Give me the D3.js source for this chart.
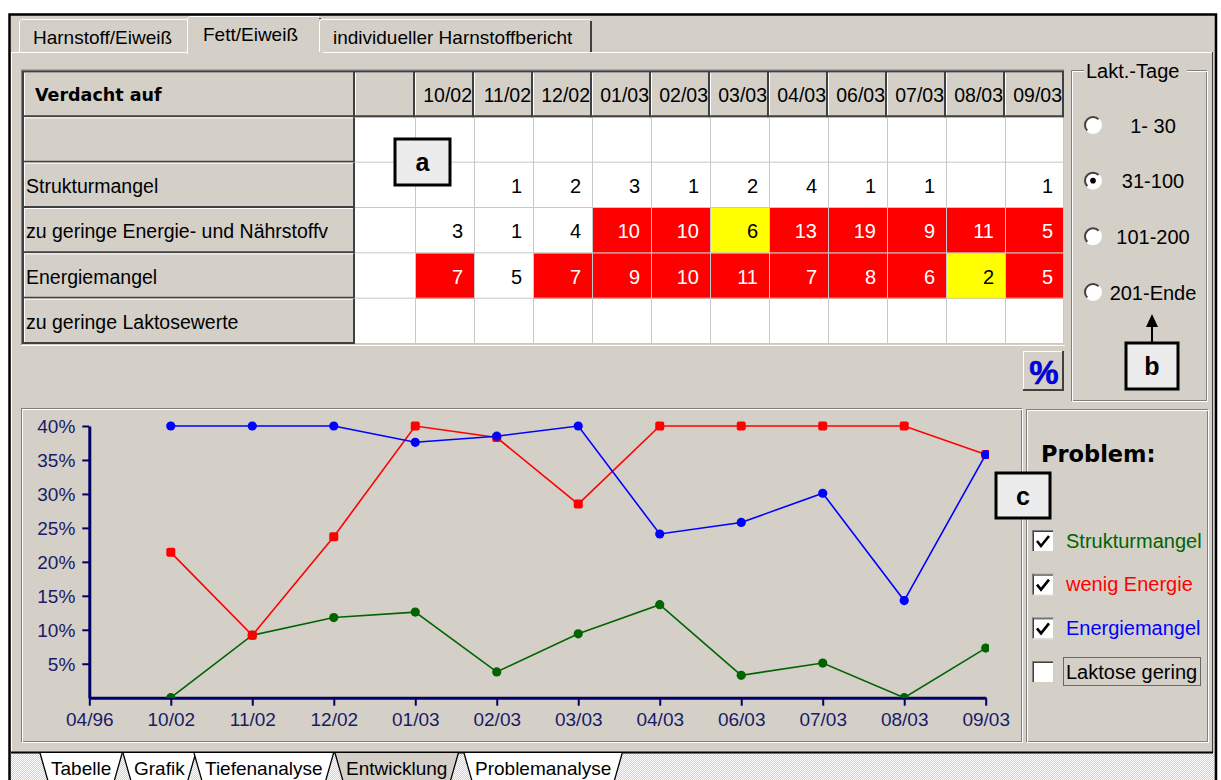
<!DOCTYPE html>
<html>
<head>
<meta charset="utf-8">
<script src="https://cdn.jsdelivr.net/npm/d3@7"></script>
<style>
body { margin: 0; background: #fff; }
svg text { font-family: "Liberation Sans", Arial, sans-serif; }
</style>
</head>
<body>
<div id="chart"></div>
<script>
// tabs and captions
var topTabs = ["Harnstoff/Eiweiß", "Fett/Eiweiß", "individueller Harnstoffbericht"];
var bottomTabs = ["Tabelle", "Grafik", "Tiefenanalyse", "Entwicklung", "Problemanalyse"];
var laktTage = ["1- 30", "31-100", "101-200", "201-Ende"];

// table data
var months = ["10/02", "11/02", "12/02", "01/03", "02/03", "03/03", "04/03", "06/03", "07/03", "08/03", "09/03"];
var rowLabels = ["", "Strukturmangel", "zu geringe Energie- und Nährstoffv", "Energiemangel", "zu geringe Laktosewerte"];
var strukturCounts = [null, 1, 2, 3, 1, 2, 4, 1, 1, null, 1];
var naehrstoffCounts = [3, 1, 4, 10, 10, 6, 13, 19, 9, 11, 5];
var energieCounts = [7, 5, 7, 9, 10, 11, 7, 8, 6, 2, 5];
var laktoseCounts = [null, null, null, null, null, null, null, null, null, null, null];
// 0 = unauffällig, 1 = Warnung, 2 = Alarm
var strukturFlags = [0, 0, 0, 0, 0, 0, 0, 0, 0, 0, 0];
var naehrstoffFlags = [0, 0, 0, 2, 2, 1, 2, 2, 2, 2, 2];
var energieFlags = [2, 0, 2, 2, 2, 2, 2, 2, 2, 1, 2];

// chart data (percent)
var axisLabels = ["04/96", "10/02", "11/02", "12/02", "01/03", "02/03", "03/03", "04/03", "06/03", "07/03", "08/03", "09/03"];
var strukturPct = [0, 9.2, 11.8, 12.6, 3.8, 9.4, 13.7, 3.3, 5.1, 0, 7.3];
var wenigEnergiePct = [21.4, 9.2, 23.7, 40, 38.3, 28.5, 40, 40, 40, 40, 35.8];
var energiemangelPct = [40, 40, 40, 37.6, 38.5, 40, 24.1, 25.8, 30.1, 14.3, 35.8];
var yTicks = [5, 10, 15, 20, 25, 30, 35, 40];

var legendLabels = ["Strukturmangel", "wenig Energie", "Energiemangel", "Laktose gering"];
var legendChecked = [true, true, true, false];

var grey = "#d4d0c8", dark = "#404040", mid = "#808080";
var bold = '"DejaVu Sans", Verdana, sans-serif';

var svg = d3.select('#chart')
    .append("svg")
    .attr("width", 1221)
    .attr("height", 780);

svg.append("rect").attr("width", 1221).attr("height", 780).attr("fill", "#fff");
svg.append("rect").attr("x", 10).attr("y", 15).attr("width", 1205).attr("height", 770).attr("fill", grey);

// dither pattern for the sheet tab strip
var pat = svg.append("defs").append("pattern")
    .attr("id", "dither").attr("width", 2).attr("height", 2)
    .attr("patternUnits", "userSpaceOnUse");
pat.append("rect").attr("width", 2).attr("height", 2).attr("fill", grey);
pat.append("rect").attr("width", 1).attr("height", 1).attr("fill", "#fff");
pat.append("rect").attr("x", 1).attr("y", 1).attr("width", 1).attr("height", 1).attr("fill", "#fff");

function hline(x1, x2, yy, color, w) {
    svg.append("line").attr("x1", x1).attr("x2", x2).attr("y1", yy).attr("y2", yy)
        .attr("stroke", color).attr("stroke-width", w || 1);
}
function vline(xx, y1, y2, color, w) {
    svg.append("line").attr("x1", xx).attr("x2", xx).attr("y1", y1).attr("y2", y2)
        .attr("stroke", color).attr("stroke-width", w || 1);
}
// raised 3d cell
function raised(x0, y0, x1, y1) {
    svg.append("rect").attr("x", x0).attr("y", y0).attr("width", x1 - x0).attr("height", y1 - y0).attr("fill", grey);
    hline(x0, x1, y0 + 0.5, "#fff");
    vline(x0 + 0.5, y0, y1, "#fff");
    hline(x0, x1, y1 - 1, dark, 2);
    vline(x1 - 1, y0, y1, dark, 2);
}
// etched frame
function etched(x0, y0, x1, y1) {
    svg.append("rect").attr("x", x0 + 0.5).attr("y", y0 + 0.5).attr("width", x1 - x0 - 1).attr("height", y1 - y0 - 1)
        .attr("fill", "none").attr("stroke", mid);
    svg.append("rect").attr("x", x0 + 1.5).attr("y", y0 + 1.5).attr("width", x1 - x0 - 1).attr("height", y1 - y0 - 1)
        .attr("fill", "none").attr("stroke", "#fff");
}

// ---- top tabs
var tabEdges = [19, 189, 319, 592];
topTabs.forEach(function(t, i) {
    var active = i === 1;
    var x0 = tabEdges[i] - (active ? 2 : 0), x1 = tabEdges[i + 1] + (active ? 2 : 0);
    var y0 = active ? 16 : 19;
    svg.append("rect").attr("x", x0).attr("y", y0).attr("width", x1 - x0).attr("height", 54 - y0).attr("fill", grey);
    svg.append("path")
        .attr("d", "M" + (x0 + 0.5) + "," + (active ? 54 : 52) + "V" + (y0 + 2.5) + "L" + (x0 + 2.5) + "," + (y0 + 0.5) + "H" + (x1 - 2))
        .attr("fill", "none").attr("stroke", "#fff");
    vline(x1 - 1, y0 + 2, active ? 53 : 52, dark, 2);
    svg.append("text").attr("x", x0 + (active ? 16 : 14)).attr("y", active ? 41 : 44)
        .attr("font-size", "19px").attr("fill", "#000").text(t);
});

// tab page frame
hline(11, 187, 52.5, "#fff");
hline(323, 1212, 52.5, "#fff");
vline(11.5, 52, 752, "#fff");
vline(1212.5, 52, 752, dark);

// outer black border
svg.append("path").attr("d", "M9.5,785V14.5H1216V785").attr("fill", "none").attr("stroke", "#000").attr("stroke-width", 2.5);

// ---- table
var colX = d3.scaleBand().domain(months).range([415, 1064]);
var rowY = d3.scaleBand().domain(d3.range(6)).range([72, 344]);
var labelX0 = 24, labelX1 = 355, blankX1 = 415;
var rh = rowY.bandwidth();

svg.append("rect").attr("x", labelX1).attr("y", rowY(1)).attr("width", 1064 - labelX1).attr("height", 344 - rowY(1)).attr("fill", "#fff");

var counts = [laktoseCounts, strukturCounts, naehrstoffCounts, energieCounts, laktoseCounts];
var flags = [strukturFlags, strukturFlags, naehrstoffFlags, energieFlags, strukturFlags];
var flagFill = ["#fff", "#ffff00", "#ff0000"];
var flagText = ["#000", "#000", "#fff"];

rowLabels.forEach(function(lbl, r) {
    var y0 = rowY(r + 1);
    months.forEach(function(m, c) {
        var f = flags[r][c];
        if (f > 0) {
            svg.append("rect").attr("x", colX(m)).attr("y", y0).attr("width", colX.bandwidth()).attr("height", rh)
                .attr("fill", flagFill[f]);
        }
    });
});

// light grid
months.forEach(function(m) { vline(colX(m) + 0.5, rowY(1), 344, "#c8c8c8"); });
vline(1063.5, rowY(1), 344, "#c8c8c8");
d3.range(1, 6).forEach(function(r) { hline(labelX1, 1064, rowY(r) + rh - 0.5, "#c8c8c8"); });

// numbers
rowLabels.forEach(function(lbl, r) {
    var y0 = rowY(r + 1);
    svg.selectAll(null)
        .data(counts[r].map(function(v, c) { return {v: v, c: c}; }).filter(function(d) { return d.v !== null; }))
        .enter()
        .append("text")
        .attr("x", function(d) { return colX(months[d.c]) + colX.bandwidth() - 11; })
        .attr("y", y0 + rh / 2 + 7.5)
        .attr("text-anchor", "end")
        .attr("font-size", "20px")
        .attr("fill", function(d) { return flagText[flags[r][d.c]]; })
        .text(function(d) { return d.v; });
});

// header row
raised(labelX0, rowY(0), labelX1, rowY(0) + rh);
raised(labelX1, rowY(0), blankX1, rowY(0) + rh);
months.forEach(function(m) {
    raised(colX(m), rowY(0), colX(m) + colX.bandwidth(), rowY(0) + rh);
});
svg.append("text").attr("x", 35).attr("y", rowY(0) + rh / 2 + 6.5)
    .style("font-family", bold).attr("font-weight", "bold").attr("font-size", "17.5px").text("Verdacht auf");
svg.selectAll(null)
    .data(months)
    .enter()
    .append("text")
    .attr("x", function(d) { return colX(d) + colX.bandwidth() - 2; })
    .attr("y", rowY(0) + rh / 2 + 7)
    .attr("text-anchor", "end")
    .attr("font-size", "19.5px")
    .text(function(d) { return d; });

// row labels
rowLabels.forEach(function(lbl, r) {
    raised(labelX0, rowY(r + 1), labelX1, rowY(r + 1) + rh);
    svg.append("text").attr("x", 26).attr("y", rowY(r + 1) + rh / 2 + 7.5)
        .attr("font-size", "19.5px").text(lbl);
});

// table sunken frame
hline(21, 1064, 70, mid);
hline(22, 1064, 71.5, dark, 2);
vline(21.5, 70, 345, mid);
vline(23, 71, 344, dark, 2);
hline(21, 1065, 345.5, "#fff");

// percent button
raised(1023, 351, 1064, 391);
svg.append("text").attr("x", 1044).attr("y", 384).attr("text-anchor", "middle")
    .attr("font-weight", "bold").attr("font-size", "33px")
    .attr("fill", "#0000ff").attr("stroke", "#000080").attr("stroke-width", 0.6).text("%");

// ---- Lakt.-Tage group
etched(1071, 70, 1207, 401);
svg.append("rect").attr("x", 1084).attr("y", 62).attr("width", 103).attr("height", 20).attr("fill", grey);
svg.append("text").attr("x", 1086).attr("y", 78).attr("font-size", "20px").text("Lakt.-Tage");

var radioY = d3.scalePoint().domain(laktTage).range([125, 292]);
var ringDark = d3.arc()({innerRadius: 7, outerRadius: 9, startAngle: -Math.PI * 0.75, endAngle: Math.PI * 0.25});
var ringLight = d3.arc()({innerRadius: 7, outerRadius: 9, startAngle: Math.PI * 0.25, endAngle: Math.PI * 1.25});
laktTage.forEach(function(t, i) {
    var cy = radioY(t), cx = 1093;
    svg.append("circle").attr("cx", cx).attr("cy", cy).attr("r", 7.5).attr("fill", "#fff");
    svg.append("path").attr("d", ringDark)
        .attr("transform", "translate(" + cx + "," + cy + ")").attr("fill", dark);
    svg.append("path").attr("d", ringLight)
        .attr("transform", "translate(" + cx + "," + cy + ")").attr("fill", "#fff");
    if (i === 1) {
        svg.append("circle").attr("cx", cx).attr("cy", cy).attr("r", 2.8).attr("fill", "#000");
    }
    svg.append("text").attr("x", 1153).attr("y", cy + 7.5).attr("text-anchor", "middle")
        .attr("font-size", "20px").text(t);
});

// ---- chart panel
etched(21, 408, 1022, 742);
etched(1026, 409, 1208, 742);

var x = d3.scalePoint().domain(axisLabels).range([89.3, 985.7]);
var y = d3.scaleLinear().domain([0, 40]).range([697.7, 426]);
var navy = "#000066";

var yAxis = svg.append("g")
    .attr("transform", "translate(" + x(axisLabels[0]) + ",0)")
    .call(d3.axisLeft(y).tickValues(yTicks).tickSize(7).tickSizeOuter(0).tickPadding(7)
        .tickFormat(function(d) { return d + "%"; }));
var xAxis = svg.append("g")
    .attr("transform", "translate(0," + y(0) + ")")
    .call(d3.axisBottom(x).tickSize(8).tickSizeOuter(0).tickPadding(7));
[yAxis, xAxis].forEach(function(g) {
    g.select(".domain").attr("stroke", navy).attr("stroke-width", 3);
    g.selectAll(".tick line").attr("stroke", navy).attr("stroke-width", 2);
    g.selectAll(".tick text").attr("fill", "#1a1a66").attr("font-size", "19px")
        .attr("font-family", '"Liberation Sans", Arial, sans-serif');
});
yAxis.selectAll(".tick text").attr("dy", "0.36em");

svg.append("clipPath").attr("id", "plotclip").append("rect")
    .attr("x", 80).attr("y", 420).attr("width", 909).attr("height", 278);

var series = [
    {values: strukturPct, color: "#006400", square: false},
    {values: wenigEnergiePct, color: "#ff0000", square: true},
    {values: energiemangelPct, color: "#0000ff", square: false}
];
var plot = svg.append("g").attr("clip-path", "url(#plotclip)");
var line = d3.line()
    .x(function(d, i) { return x(axisLabels[i + 1]); })
    .y(function(d) { return y(d); });

series.forEach(function(s) {
    plot.append("path").datum(s.values).attr("d", line)
        .attr("fill", "none").attr("stroke", s.color).attr("stroke-width", 1.6);
    if (s.square) {
        plot.selectAll(null).data(s.values).enter().append("rect")
            .attr("x", function(d, i) { return x(axisLabels[i + 1]) - 4.5; })
            .attr("y", function(d) { return y(d) - 4.5; })
            .attr("width", 9).attr("height", 9).attr("rx", 2)
            .attr("fill", s.color);
    } else {
        plot.selectAll(null).data(s.values).enter().append("circle")
            .attr("cx", function(d, i) { return x(axisLabels[i + 1]); })
            .attr("cy", function(d) { return y(d); })
            .attr("r", 4.6)
            .attr("fill", s.color);
    }
});

// ---- legend
svg.append("text").attr("x", 1041).attr("y", 462)
    .style("font-family", bold).attr("font-weight", "bold").attr("font-size", "22.5px").text("Problem:");

var legendY = d3.scalePoint().domain(legendLabels).range([541, 672]);
var legendColors = ["#006400", "#ff0000", "#0000ff", "#000"];
legendLabels.forEach(function(l, i) {
    var cy = legendY(l), bx = 1032, by = cy - 11;
    svg.append("rect").attr("x", bx).attr("y", by).attr("width", 22).attr("height", 22).attr("fill", "#fff");
    hline(bx, bx + 22, by + 0.5, mid);
    vline(bx + 0.5, by, by + 22, mid);
    hline(bx + 1, bx + 21, by + 1.5, dark);
    vline(bx + 1.5, by + 1, by + 21, dark);
    hline(bx, bx + 22, by + 21.5, grey);
    vline(bx + 21.5, by, by + 22, grey);
    if (legendChecked[i]) {
        svg.append("path").attr("d", "M" + (bx + 5) + "," + (by + 11) + "l4,5l8,-10")
            .attr("fill", "none").attr("stroke", "#000").attr("stroke-width", 2.6);
    }
    svg.append("text").attr("x", 1066).attr("y", cy + 6.5)
        .attr("font-size", "20px").attr("fill", legendColors[i]).text(l);
});
var lastY = legendY(legendLabels[3]);
svg.append("rect").attr("x", 1063.5).attr("y", lastY - 14.5).attr("width", 137).attr("height", 28)
    .attr("fill", "none").attr("stroke", "#000").attr("stroke-dasharray", "1,1");

// ---- sheet tabs at the bottom
svg.append("rect").attr("x", 11).attr("y", 752).attr("width", 1203).attr("height", 30).attr("fill", "url(#dither)");
hline(11, 1213, 752.5, "#000", 2);
var tabTextX = [51, 134, 205, 346, 475];
var tabG = svg.append("g");
var tabTexts = bottomTabs.map(function(t, i) {
    return svg.append("text").attr("x", tabTextX[i]).attr("y", 775).attr("font-size", "19px").text(t);
});
var order = [0, 1, 2, 4, 3];
order.forEach(function(i) {
    var t0 = tabTextX[i], t1 = t0 + tabTexts[i].node().getComputedTextLength();
    tabG.append("path")
        .attr("d", "M" + (t0 - 11) + ",753L" + (t0 - 3) + ",781L" + (t1 + 3) + ",781L" + (t1 + 11) + ",753")
        .attr("fill", i === 3 ? grey : "#fff").attr("stroke", "#000").attr("stroke-width", 1.3);
});
tabTexts.forEach(function(t) { tabG.node().appendChild(t.node()); });

// ---- annotation boxes
function callout(x0, y0, w, h, letter) {
    svg.append("rect").attr("x", x0).attr("y", y0).attr("width", w).attr("height", h)
        .attr("fill", "#ececec").attr("stroke", "#000").attr("stroke-width", 3);
    svg.append("text").attr("x", x0 + w / 2).attr("y", y0 + h / 2 + 9).attr("text-anchor", "middle")
        .attr("font-weight", "bold").attr("font-size", "25px").text(letter);
}
callout(395, 139, 55, 46, "a");
svg.append("line").attr("x1", 1152).attr("x2", 1152).attr("y1", 342).attr("y2", 324).attr("stroke", "#000").attr("stroke-width", 2);
svg.append("path").attr("d", "M1152,314L1146,327H1158Z").attr("fill", "#000");
callout(1126, 343, 52, 46, "b");
callout(996, 473, 54, 45, "c");
</script>
</body>
</html>
